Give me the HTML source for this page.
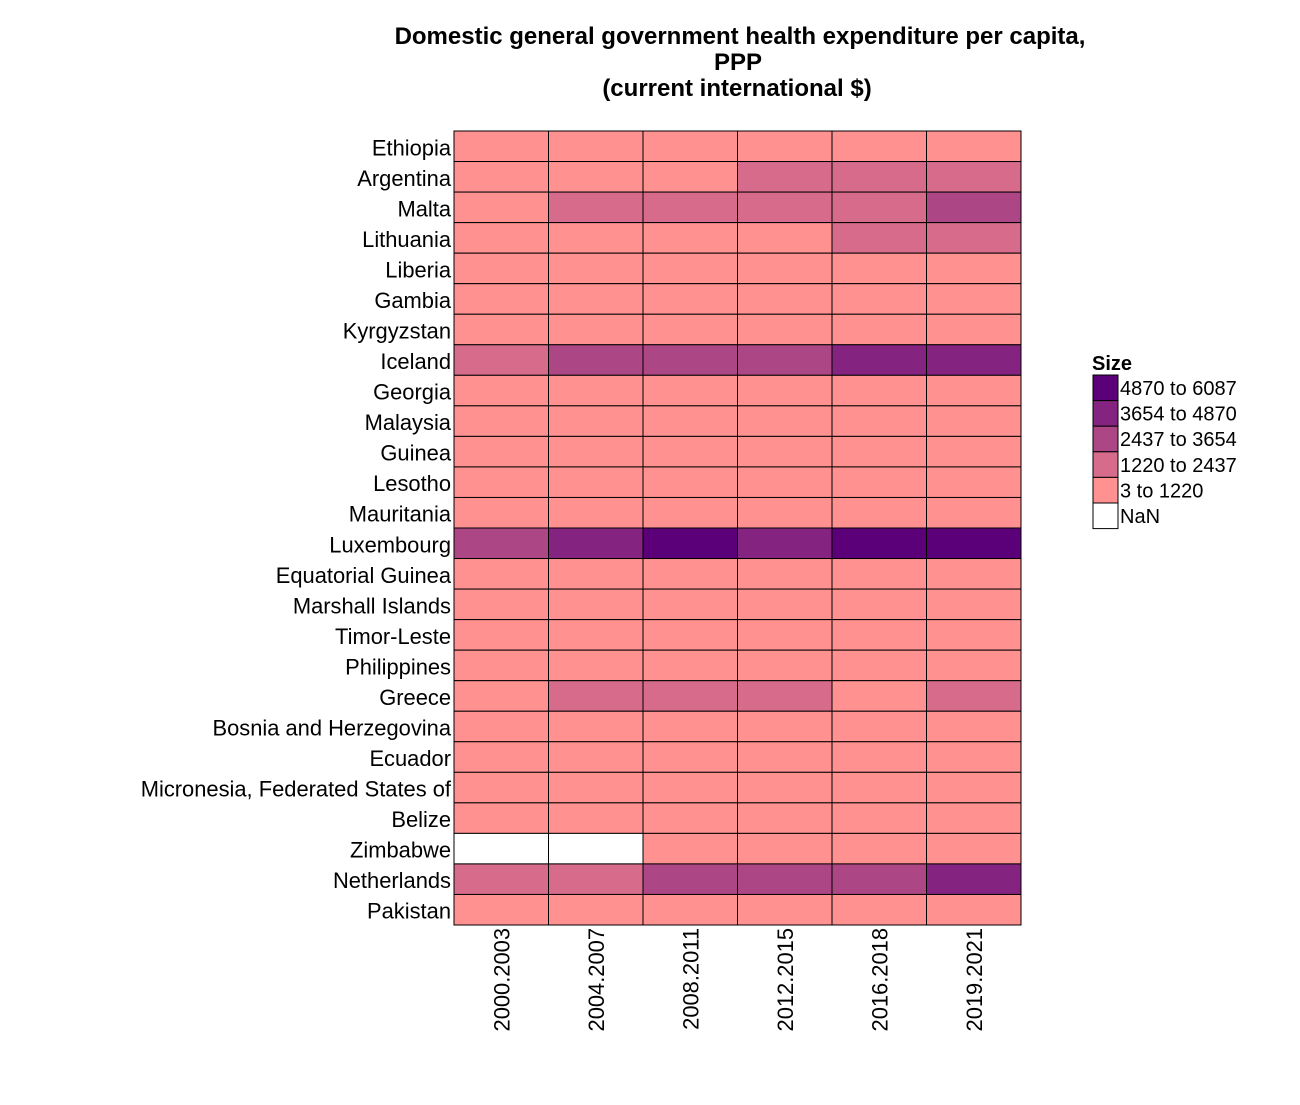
<!DOCTYPE html>
<html><head><meta charset="utf-8"><style>
body{margin:0;background:#fff;font-family:"Liberation Sans",Arial,sans-serif}
</style></head><body>
<svg id="chart" width="1300" height="1100" xmlns="http://www.w3.org/2000/svg" font-family="Liberation Sans, Arial, sans-serif">
<g font-weight="bold" font-size="24" text-anchor="middle">
<text x="740" y="44">Domestic general government health expenditure per capita,</text>
<text x="738" y="70">PPP</text>
<text x="737" y="96">(current international $)</text>
</g>
<g id="cells"></g><g id="ylab"></g><g id="xlab"></g><g id="legend"></g>
</svg>
<script>
const countries=["Ethiopia","Argentina","Malta","Lithuania","Liberia","Gambia","Kyrgyzstan","Iceland","Georgia","Malaysia","Guinea","Lesotho","Mauritania","Luxembourg","Equatorial Guinea","Marshall Islands","Timor-Leste","Philippines","Greece","Bosnia and Herzegovina","Ecuador","Micronesia, Federated States of","Belize","Zimbabwe","Netherlands","Pakistan"];
const periods=["2000.2003","2004.2007","2008.2011","2012.2015","2016.2018","2019.2021"];
const v_ethiopia=[20,30,40,50,60,70];
const v_argentina=[900,700,1100,1500,1600,1700];
const v_malta=[1100,1500,1800,2000,2300,2600];
const v_lithuania=[500,700,900,1100,1400,1800];
const v_liberia=[10,15,20,30,40,50];
const v_gambia=[30,35,40,40,45,50];
const v_kyrgyzstan=[40,60,80,100,110,120];
const v_iceland=[2200,2500,2700,2900,3700,4200];
const v_georgia=[30,60,100,200,300,400];
const v_malaysia=[300,350,400,450,500,550];
const v_guinea=[10,15,20,25,30,35];
const v_lesotho=[60,80,100,150,180,200];
const v_mauritania=[30,40,50,60,70,80];
const v_luxembourg=[3300,4000,5000,4600,5200,5800];
const v_eqguinea=[50,100,200,250,150,120];
const v_marshall=[400,450,500,550,600,700];
const v_timor=[100,150,200,250,200,250];
const v_philippines=[60,80,100,130,160,200];
const v_greece=[1100,1300,1500,1300,1150,1400];
const v_bosnia=[300,400,500,600,700,800];
const v_ecuador=[80,150,250,400,450,500];
const v_micronesia=[300,350,400,400,450,500];
const v_belize=[150,200,250,300,350,400];
const v_zimbabwe=[NaN,NaN,50,80,90,100];
const v_netherlands=[1800,2300,2800,3200,3400,4000];
const v_pakistan=[10,15,20,30,40,50];
const values=[v_ethiopia,v_argentina,v_malta,v_lithuania,v_liberia,v_gambia,v_kyrgyzstan,v_iceland,v_georgia,v_malaysia,v_guinea,v_lesotho,v_mauritania,v_luxembourg,v_eqguinea,v_marshall,v_timor,v_philippines,v_greece,v_bosnia,v_ecuador,v_micronesia,v_belize,v_zimbabwe,v_netherlands,v_pakistan];
const breaks=[3,1220,2437,3654,4870,6087];
const legendLabels=["4870 to 6087","3654 to 4870","2437 to 3654","1220 to 2437","3 to 1220","NaN"];
const palette=["#FF9191","#D66B8B","#AD4685","#852380","#5B0079"];
const NS="http://www.w3.org/2000/svg";
const X0=454,X1=1021,Y0=131,Y1=925;
const cw=(X1-X0)/periods.length, ch=(Y1-Y0)/countries.length;
const xPos=i=>X0+i*cw, yPos=j=>Y0+j*ch;
function color(v){if(isNaN(v))return "#FFFFFF";for(let k=1;k<breaks.length;k++){if(v<=breaks[k])return palette[k-1];}return palette[4];}
function mk(tag,attrs,parent){const e=document.createElementNS(NS,tag);for(const k in attrs)e.setAttribute(k,attrs[k]);parent.appendChild(e);return e;}
const cells=document.getElementById('cells'),yl=document.getElementById('ylab'),xl=document.getElementById('xlab'),lg=document.getElementById('legend');
countries.forEach((c,j)=>{
 periods.forEach((p,i)=>{
  const r=mk('rect',{x:xPos(i),y:yPos(j),width:cw,height:ch,fill:color(values[j][i]),stroke:"#000","stroke-width":1},cells);
  
  
 });
 const t=mk('text',{x:451,y:yPos(j)+ch/2+9,"text-anchor":"end","font-size":21.9},yl);
 t.textContent=c;
 
 
});
periods.forEach((p,i)=>{
 const cx=xPos(i)+cw/2+8;
 const t=mk('text',{x:cx,y:928,"text-anchor":"end","font-size":21.9,transform:`rotate(-90 ${cx} 928)`},xl);
 t.textContent=p;
 
 
});
const lt=mk('text',{x:1092,y:370,"font-size":20,"font-weight":"bold"},lg);
lt.textContent="Size";


const lcol=[palette[4],palette[3],palette[2],palette[1],palette[0],"#FFFFFF"];
legendLabels.forEach((l,k)=>{
 const y=375+k*25.6;
 const r=mk('rect',{x:1093,y:y,width:25,height:25.6,fill:lcol[k],stroke:"#000","stroke-width":1},lg);
 
 
 const t=mk('text',{x:1120,y:y+20,"font-size":20},lg);
 t.textContent=l;
 
 
});
</script>
</body></html>
